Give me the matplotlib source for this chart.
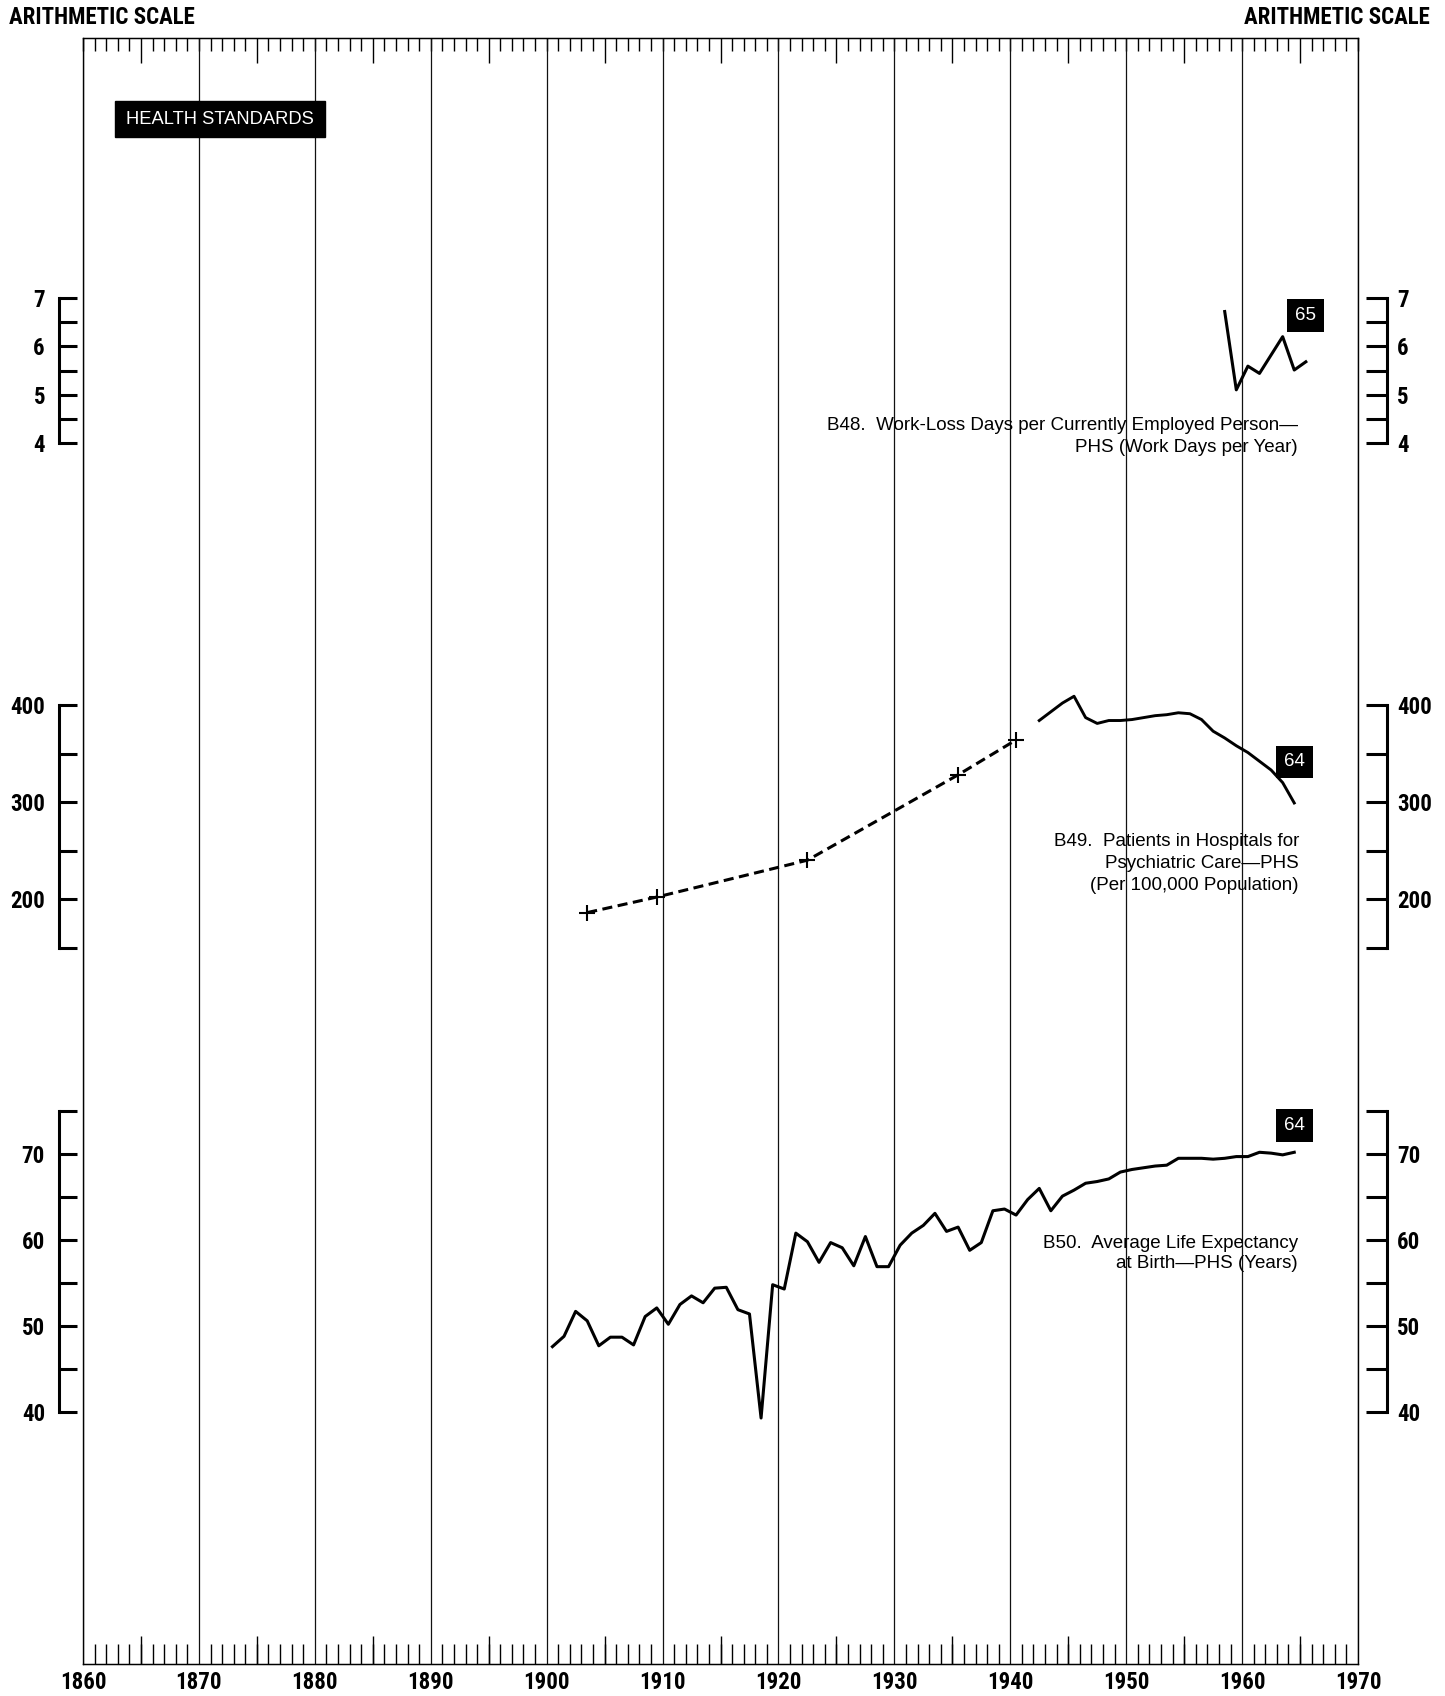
import matplotlib
matplotlib.use("Agg")
import matplotlib.pyplot as plt
from matplotlib import font_manager
from matplotlib.font_manager import FontProperties
from matplotlib.patches import Rectangle
from matplotlib.ticker import MultipleLocator, NullFormatter
import numpy as np

# ---------------- data ----------------
decade_labels = ["1860", "1870", "1880", "1890", "1900", "1910", "1920",
                 "1930", "1940", "1950", "1960", "1970"]

b48_years = [1958, 1959, 1960, 1961, 1962, 1963, 1964, 1965]
b48_values = [6.72, 5.10, 5.59, 5.44, 5.82, 6.20, 5.51, 5.68]

b49_early_years = [1903, 1909, 1922, 1935, 1940]
b49_early_values = [186, 202, 240, 328, 364]

b49_years = list(range(1942, 1965))
b49_values = [384, 393, 402, 409, 387, 381, 384, 384, 385, 387, 389, 390,
              392, 391, 385, 373, 366, 358, 351, 342, 333, 320, 299]

b50_years = list(range(1900, 1965))
b50_values = [47.6, 48.8, 51.7, 50.6, 47.7, 48.7, 48.7, 47.8, 51.1, 52.1,
              50.2, 52.5, 53.5, 52.7, 54.4, 54.5, 51.9, 51.4, 39.3, 54.8,
              54.3, 60.8, 59.8, 57.4, 59.7, 59.1, 57.0, 60.4, 56.9, 56.9,
              59.4, 60.8, 61.7, 63.1, 61.0, 61.5, 58.8, 59.7, 63.4, 63.6,
              62.9, 64.7, 66.0, 63.4, 65.1, 65.8, 66.6, 66.8, 67.1, 67.9,
              68.2, 68.4, 68.6, 68.7, 69.5, 69.5, 69.5, 69.4, 69.5, 69.7,
              69.7, 70.2, 70.1, 69.9, 70.2]

b48_ticks = [4, 4.5, 5, 5.5, 6, 6.5, 7]
b48_ticklabels = ["4", "", "5", "", "6", "", "7"]
b49_ticks = [150, 200, 250, 300, 350, 400]
b49_ticklabels = ["", "200", "", "300", "", "400"]
b50_ticks = [40, 45, 50, 55, 60, 65, 70, 75]
b50_ticklabels = ["40", "", "50", "", "60", "", "70", ""]

b48_title = ["B48.  Work-Loss Days per Currently Employed Person\u2014",
             "PHS (Work Days per Year)"]
b49_title = ["B49.  Patients in Hospitals for",
             "Psychiatric Care\u2014PHS",
             "(Per 100,000 Population)"]
b50_title = ["B50.  Average Life Expectancy",
             "at Birth\u2014PHS (Years)"]

# ---------------- fonts ----------------
names = {f.name for f in font_manager.fontManager.ttflist}
if "Liberation Sans Narrow" in names:
    fp_cond = FontProperties(family="Liberation Sans Narrow", weight="bold", size=16.5)
elif "Roboto Condensed" in names:
    fp_cond = FontProperties(family="Roboto Condensed", weight="bold", size=16.5)
else:
    fp_cond = FontProperties(family="DejaVu Sans", weight="bold", stretch="condensed", size=13)
TXT = "Liberation Sans" if "Liberation Sans" in names else "DejaVu Sans"

# ---------------- layout ----------------
W, H = 1445, 1696
fig = plt.figure(figsize=(W / 100, H / 100), dpi=100)
L, R, T, B = 83, 1358, 38, 1664
rect = [L / W, 1 - B / H, (R - L) / W, (B - T) / H]
PT = 0.72  # points per pixel at 100 dpi

ax = fig.add_axes(rect)
ax.set_xlim(1860, 1970)
ax.set_ylim(0, 1)
ax.set_yticks([])
ax.set_xticks(range(1860, 1971, 10))
ax.set_xticklabels(decade_labels, fontproperties=fp_cond)
ax.xaxis.set_minor_locator(MultipleLocator(1))
ax.tick_params(axis="x", which="major", length=0, pad=5)
ax.tick_params(axis="x", which="minor", direction="in", length=20 * PT, width=1.0)
ax.grid(axis="x", which="major", color="#111111", lw=0.9)
for s in ax.spines.values():
    s.set_linewidth(1.0)

five_years = [y for y in range(1865, 1970, 10)]
bot = ax.secondary_xaxis("bottom")
bot.set_xticks(five_years)
bot.tick_params(direction="in", length=28 * PT, width=1.0, labelbottom=False)
top = ax.secondary_xaxis("top")
top.set_xticks(five_years)
top.xaxis.set_minor_locator(MultipleLocator(1))
top.tick_params(which="major", direction="in", length=25 * PT, width=1.0, labeltop=False)
top.tick_params(which="minor", direction="in", length=13 * PT, width=1.0)
top.xaxis.set_minor_formatter(NullFormatter())


def series_axes(v_top, y_top, v_bot, y_bot, ticks, labels):
    scale = (y_bot - y_top) / (v_top - v_bot)
    ymax = v_top + (y_top - T) / scale
    ymin = v_bot - (B - y_bot) / scale
    a = fig.add_axes(rect)
    a.set_xlim(1860, 1970)
    a.set_ylim(ymin, ymax)
    a.patch.set_visible(False)
    a.xaxis.set_visible(False)
    for k in ("top", "bottom", "right"):
        a.spines[k].set_visible(False)
    a.spines["left"].set_position(("outward", 24 * PT))
    a.spines["left"].set_bounds(ticks[0], ticks[-1])
    a.spines["left"].set_linewidth(2.2)
    a.set_yticks(ticks, labels, fontproperties=fp_cond)
    a.tick_params(axis="y", direction="in", length=18 * PT, width=2.2, pad=14 * PT)
    b = a.twinx()
    b.set_ylim(ymin, ymax)
    b.patch.set_visible(False)
    for k in ("top", "bottom", "left"):
        b.spines[k].set_visible(False)
    b.spines["right"].set_position(("outward", 29 * PT))
    b.spines["right"].set_bounds(ticks[0], ticks[-1])
    b.spines["right"].set_linewidth(2.2)
    b.set_yticks(ticks, labels, fontproperties=fp_cond)
    b.tick_params(axis="y", direction="in", length=21 * PT, width=2.2, pad=10 * PT)
    return a


ax48 = series_axes(7, 298, 4, 443, b48_ticks, b48_ticklabels)
ax49 = series_axes(400, 705, 200, 899, b49_ticks, b49_ticklabels)
ax50 = series_axes(70, 1154, 40, 1412, b50_ticks, b50_ticklabels)

mid = 0.5  # annual values plotted at mid-year
ax48.plot(np.array(b48_years) + mid, b48_values, color="black", lw=2.2)
ax49.plot(np.array(b49_early_years) + mid, b49_early_values, color="black",
          lw=2.2, dashes=(3.3, 1.8))
ax49.plot(np.array(b49_early_years) + mid, b49_early_values, ls="none",
          marker="+", ms=11, mew=1.5, color="black")
ax49.plot(np.array(b49_years) + mid, b49_values, color="black", lw=2.1)
ax50.plot(np.array(b50_years) + mid, b50_values, color="black", lw=2.2)

box = dict(boxstyle="square,pad=0.42", fc="black", ec="none")
for a, yrs, vals, lab, dy in ((ax48, b48_years, b48_values, "65", 46),
                              (ax49, b49_years, b49_values, "64", 41),
                              (ax50, b50_years, b50_values, "64", 27)):
    a.annotate(lab, xy=(yrs[-1] + mid, vals[-1]), xytext=(0, dy),
               textcoords="offset pixels", ha="center", va="center",
               color="white", fontsize=13.5, family=TXT, bbox=box)


def ftext(x, y, s, **kw):
    fig.text(x / W, 1 - y / H, s, **kw)


for lines, xr, ys in ((b48_title, 1298, [426, 447]),
                      (b49_title, 1299, [842, 863, 885]),
                      (b50_title, 1298, [1243, 1264])):
    for s, y in zip(lines, ys):
        ftext(xr, y, s, ha="right", va="center", fontsize=13.5, family=TXT)

# header box
fig.patches.append(Rectangle((115 / W, 1 - 137 / H), 210 / W, 36 / H,
                             transform=fig.transFigure, color="black"))
ftext(220, 119, "HEALTH STANDARDS", ha="center", va="center", color="white",
      fontsize=13.2, family=TXT)

ftext(9, 17, "ARITHMETIC SCALE", ha="left", va="center", fontproperties=fp_cond)
ftext(1430, 17, "ARITHMETIC SCALE", ha="right", va="center", fontproperties=fp_cond)

fig.savefig("out.png", dpi=100)
